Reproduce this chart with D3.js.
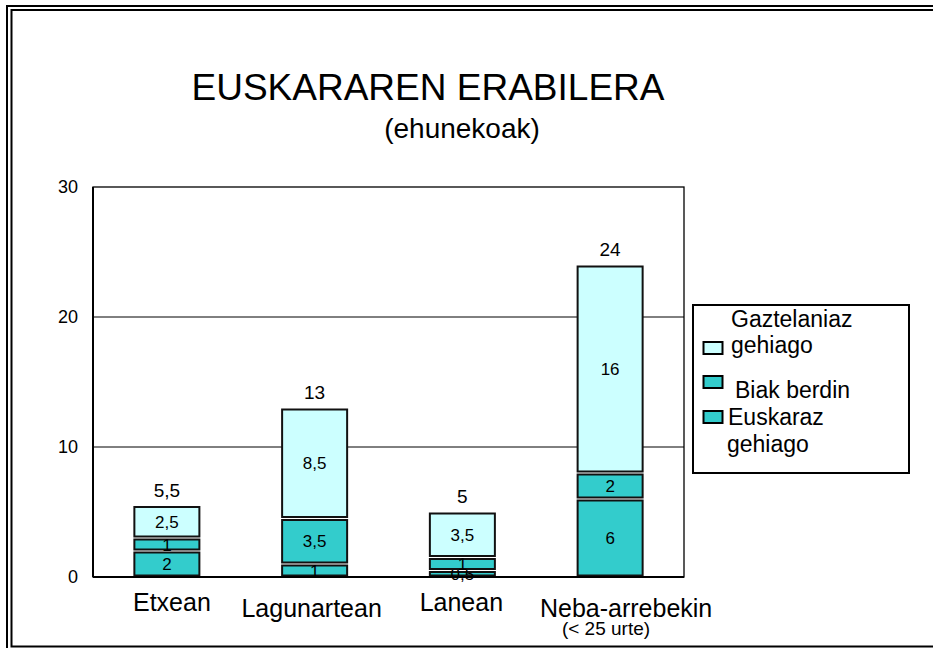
<!DOCTYPE html>
<html>
<head>
<meta charset="utf-8">
<script src="https://cdnjs.cloudflare.com/ajax/libs/d3/7.8.5/d3.min.js"></script>
<style>
  body { margin: 0; background: #fff; }
  text { font-family: "Liberation Sans", Arial, sans-serif; fill: #000; }
</style>
</head>
<body>
<svg id="chart" width="933" height="648"></svg>
<script>
// data
var categories = ["Etxean", "Lagunartean", "Lanean", "Neba-arrebekin"];
var euskaraz = [2, 1, 0.5, 6];
var biak = [1, 3.5, 1, 2];
var gaztelaniaz = [2.5, 8.5, 3.5, 16];
var totals = [5.5, 13, 5, 24];
var yTicks = [0, 10, 20, 30];
var seriesKeys = ["euskaraz", "biak", "gaztelaniaz"];
var legendLabels = [["Gaztelaniaz", "gehiago"], ["Biak berdin"], ["Euskaraz", "gehiago"]];

var colors = { euskaraz: "#33cccc", biak: "#33cccc", gaztelaniaz: "#ccffff" };

// label nudges so the category names sit like the original
var labelDx = [5, -3, -1, 16];
var labelDy = [0, 6, 0, 6];

var svg = d3.select("#chart");
var plotLeft = 93, plotRight = 684, plotTop = 187, plotBottom = 577;

// double frame
svg.append("rect").attr("x", 7).attr("y", 6).attr("width", 960).attr("height", 700)
    .attr("fill", "none").attr("stroke", "#000").attr("stroke-width", 2);
svg.append("rect").attr("x", 11.5).attr("y", 10).attr("width", 960).attr("height", 636.5)
    .attr("fill", "none").attr("stroke", "#000").attr("stroke-width", 2);

var rows = categories.map(function(c, i) {
    return { cat: c, euskaraz: euskaraz[i], biak: biak[i], gaztelaniaz: gaztelaniaz[i], total: totals[i] };
});

var x = d3.scaleBand().domain(categories).range([plotLeft, plotRight])
    .paddingInner(0.56).paddingOuter(0.28);
var y = d3.scaleLinear().domain([0, 30]).range([plotBottom, plotTop]);

// title
svg.append("text").attr("x", 428).attr("y", 100).attr("text-anchor", "middle")
    .style("font-size", "37px").text("EUSKARAREN ERABILERA");
svg.append("text").attr("x", 462).attr("y", 138).attr("text-anchor", "middle")
    .style("font-size", "28px").text("(ehunekoak)");

// gridlines
svg.selectAll(".grid").data(yTicks.filter(function(t) { return t > 0 && t < 30; }))
    .enter().append("line")
    .attr("x1", plotLeft).attr("x2", plotRight)
    .attr("y1", function(d) { return y(d); }).attr("y2", function(d) { return y(d); })
    .attr("stroke", "#000").attr("stroke-width", 1);

// plot box
svg.append("rect").attr("x", plotLeft).attr("y", plotTop).attr("width", plotRight - plotLeft)
    .attr("height", plotBottom - plotTop)
    .attr("fill", "none").attr("stroke", "#000").attr("stroke-width", 1.3);
svg.append("line").attr("x1", plotLeft).attr("x2", plotLeft).attr("y1", plotTop).attr("y2", plotBottom)
    .attr("stroke", "#000").attr("stroke-width", 2);

// y axis
var yAxis = d3.axisLeft(y).tickValues(yTicks).tickSize(0).tickPadding(15);
var ya = svg.append("g").attr("transform", "translate(" + plotLeft + ",0)").call(yAxis);
ya.select(".domain").remove();
ya.selectAll("text").style("font-size", "18px").style("font-family", "Liberation Sans, Arial, sans-serif");

// stacked bars
var stack = d3.stack().keys(seriesKeys);
var layers = stack(rows);

var bw = x.bandwidth();
layers.forEach(function(layer) {
    var g = svg.append("g");
    g.selectAll("rect").data(layer).enter().append("rect")
        .attr("x", function(d) { return x(d.data.cat); })
        .attr("y", function(d) { return y(d[1]) + 1.5; })
        .attr("width", bw)
        .attr("height", function(d) { return Math.max(0, y(d[0]) - y(d[1]) - 3); })
        .attr("fill", colors[layer.key])
        .attr("stroke", "#111").attr("stroke-width", 2);
    g.selectAll("text").data(layer).enter().append("text")
        .attr("x", function(d) { return x(d.data.cat) + bw / 2; })
        .attr("y", function(d) { return (y(d[0]) + y(d[1])) / 2 + 6; })
        .attr("text-anchor", "middle")
        .style("font-size", "17px")
        .text(function(d) { return String(d[1] - d[0]).replace(".", ","); });
});

// axis baseline
svg.append("line").attr("x1", plotLeft).attr("x2", plotRight).attr("y1", plotBottom).attr("y2", plotBottom)
    .attr("stroke", "#000").attr("stroke-width", 2);

// totals
svg.selectAll(".total").data(rows).enter().append("text")
    .attr("x", function(d) { return x(d.cat) + bw / 2; })
    .attr("y", function(d) { return y(d.total) - 9; })
    .attr("text-anchor", "middle")
    .style("font-size", "19px")
    .text(function(d) { return String(d.total).replace(".", ","); });

// category labels
svg.selectAll(".cat").data(categories).enter().append("text")
    .attr("x", function(d, i) { return x(d) + bw / 2 + labelDx[i]; })
    .attr("y", function(d, i) { return 611 + labelDy[i]; })
    .attr("text-anchor", "middle")
    .style("font-size", "25px")
    .text(function(d) { return d; });
svg.append("text").attr("x", 606).attr("y", 635).attr("text-anchor", "middle")
    .style("font-size", "19px").text("(< 25 urte)");

// legend
var lg = svg.append("g");
lg.append("rect").attr("x", 693).attr("y", 305).attr("width", 216).attr("height", 168)
    .attr("fill", "#fff").attr("stroke", "#000").attr("stroke-width", 2);
var swY = [342, 376, 411];
var legKeys = ["gaztelaniaz", "biak", "euskaraz"];
legKeys.forEach(function(k, i) {
    lg.append("rect").attr("x", 703.5).attr("y", swY[i]).attr("width", 19).attr("height", 12)
        .attr("fill", colors[k]).attr("stroke", "#000").attr("stroke-width", 2);
});
var legText = [
    { t: legendLabels[0][0], x: 731, y: 327 },
    { t: legendLabels[0][1], x: 731, y: 353 },
    { t: legendLabels[1][0], x: 735, y: 398 },
    { t: legendLabels[2][0], x: 728, y: 425 },
    { t: legendLabels[2][1], x: 727, y: 452 }
];
lg.selectAll(".lt").data(legText).enter().append("text")
    .attr("x", function(d) { return d.x; }).attr("y", function(d) { return d.y; })
    .style("font-size", "23px")
    .text(function(d) { return d.t; });
</script>
</body>
</html>
